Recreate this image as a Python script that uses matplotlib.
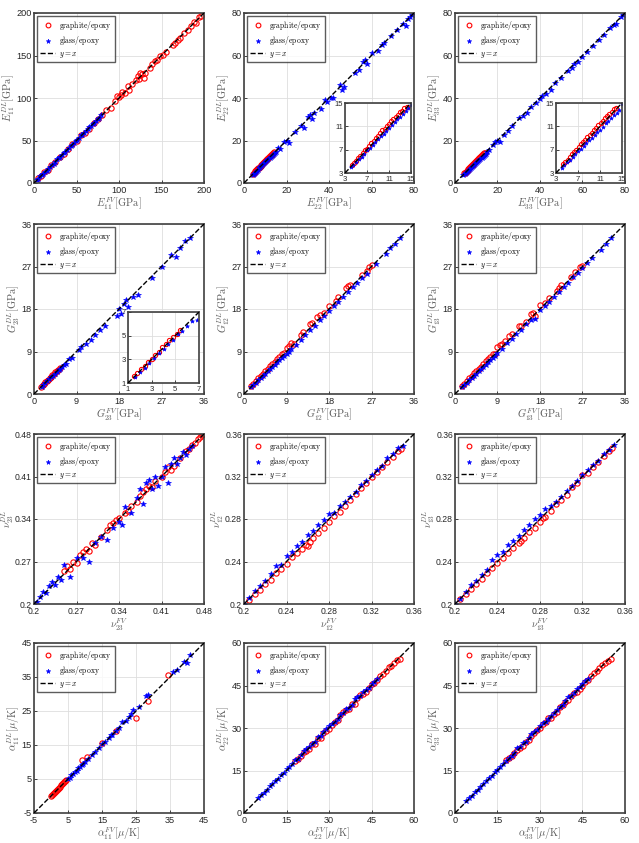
import matplotlib
matplotlib.use("Agg")
import matplotlib.pyplot as plt

plt.rcParams['mathtext.fontset'] = 'cm'
plt.rcParams['font.family'] = ['Liberation Sans', 'DejaVu Sans']

# ---- data ----
# E11
e11_gr_x = [5, 8, 12, 16, 20, 25, 30, 35, 40, 45, 50, 55, 60, 65, 70, 75, 80, 85, 90, 95, 98, 100, 102, 104, 107, 110,
            112, 115, 120, 122, 124, 125, 127, 129, 131, 136, 139, 142, 145, 148, 152, 155, 163, 166, 169, 172, 176,
            181, 185, 188, 191, 194, 196]
e11_gr_y = [6, 8, 13, 15, 21, 25, 31, 34, 40, 46, 50, 56, 59, 64, 71, 75, 80, 86, 88, 96, 102, 101, 103, 107, 106, 114,
            110, 117, 121, 126, 122, 130, 128, 124, 130, 135, 140, 143, 145, 149, 151, 154, 162, 165, 168, 171, 176,
            180, 185, 190, 188, 195, 197]
e11_gl_x = [3, 5, 7, 9, 11, 13, 15, 17, 19, 21, 23, 25, 27, 29, 31, 33, 35, 37, 39, 41, 43, 45, 47, 49, 51, 53, 55, 57,
            59, 61, 63, 65, 67, 69, 71, 73, 75, 77, 79]
e11_gl_y = [3, 5, 8, 9, 11, 13, 14, 17, 19, 21, 22, 25, 28, 29, 31, 33, 35, 36, 39, 41, 44, 45, 47, 49, 51, 53, 56, 57,
            59, 61, 63, 66, 67, 69, 71, 73, 75, 77, 80]

# E22
e22_gr_x = [4.2, 4.6, 5.0, 5.4, 5.8, 6.2, 6.6, 7.0, 7.4, 7.8, 8.2, 8.6, 9.0, 9.4, 9.8, 10.2, 10.6, 11.0, 11.4, 11.8,
            12.2, 12.6, 13.0, 13.4, 13.8, 14.2]
e22_gr_y = [4.3, 4.8, 5.1, 5.6, 6.0, 6.4, 6.9, 7.2, 7.7, 8.1, 8.5, 9.0, 9.4, 9.8, 10.3, 10.6, 11.1, 11.4, 11.9, 12.2,
            12.6, 13.0, 13.4, 13.7, 14.1, 14.4]
e22_gl_x = [4.0, 4.5, 5.0, 5.5, 6.0, 6.5, 7.0, 7.5, 8.0, 8.5, 9.0, 9.5, 10.0, 10.5, 11.0, 11.5, 12.0, 12.5, 13.0, 13.5,
            14.0, 14.5, 15, 16, 17, 19, 20, 21, 24, 27, 28, 30, 31, 32, 33, 36, 38, 39, 41, 42, 45, 46, 47, 52, 54,
            56, 57, 58, 60, 63, 65, 66, 69, 72, 75, 76, 77, 78, 79]
e22_gl_y = [4.0, 4.4, 4.9, 5.4, 5.8, 6.3, 6.9, 7.3, 7.8, 8.3, 8.8, 9.3, 9.7, 10.2, 10.8, 11.2, 11.7, 12.2, 12.6, 13.1,
            13.6, 14.1, 14.7, 16.5, 16, 19.5, 20, 19, 24, 27, 26, 31, 32, 30, 33, 35, 39, 38, 40, 40, 46, 44, 45, 52,
            53, 57, 58, 56, 61, 62, 65, 66, 69, 72, 75, 74, 77, 78, 79]

# E33
e33_gr_x = [4.3, 4.7, 5.1, 5.5, 5.9, 6.3, 6.7, 7.1, 7.5, 7.9, 8.3, 8.7, 9.1, 9.5, 9.9, 10.3, 10.7, 11.1, 11.5, 11.9,
            12.3, 12.7, 13.1, 13.5, 13.9]
e33_gr_y = [4.5, 4.9, 5.3, 5.8, 6.2, 6.6, 7.0, 7.4, 7.9, 8.3, 8.7, 9.1, 9.6, 9.9, 10.4, 10.8, 11.2, 11.6, 12.0, 12.4,
            12.8, 13.2, 13.5, 13.9, 14.2]
e33_gl_x = [4.0, 4.5, 5.0, 5.5, 6.0, 6.5, 7.0, 7.5, 8.0, 8.5, 9.0, 9.5, 10.0, 10.5, 11.0, 11.5, 12.0, 12.5, 13.0, 13.5,
            14.0, 14.5, 15, 16, 18, 19, 20, 21, 23, 25, 27, 30, 32, 34, 36, 38, 40, 41, 43, 45, 47, 50, 53, 55, 56,
            58, 60, 62, 65, 68, 70, 73, 75, 76, 78, 79]
e33_gl_y = [3.9, 4.4, 4.9, 5.3, 5.8, 6.3, 6.8, 7.2, 7.7, 8.1, 8.6, 9.0, 9.5, 10.0, 10.4, 10.9, 11.5, 12.0, 12.4, 12.9,
            13.3, 13.8, 14.8, 15.5, 18, 19.5, 20, 19.5, 22.5, 24.5, 27, 30.5, 31.5, 33, 36, 37.5, 39.5, 41, 42, 44,
            47, 49.5, 52.5, 54, 56, 57, 59.5, 61.5, 64.5, 67.5, 69.5, 73, 74.5, 75, 78, 79]

# G23
g23_gr_x = [1.5, 1.8, 2.1, 2.4, 2.7, 3.0, 3.3, 3.6, 3.9, 4.2, 4.5, 4.8, 5.1, 5.4]
g23_gr_y = [1.55, 1.85, 2.15, 2.45, 2.8, 3.05, 3.4, 3.65, 4.0, 4.3, 4.6, 4.9, 5.15, 5.45]
g23_gl_x = [1.6, 2.0, 2.4, 2.8, 3.2, 3.6, 4.0, 4.4, 4.8, 5.2, 5.6, 6.0, 6.4, 6.8, 7.5, 8.0, 9.5, 10, 11, 12, 13, 14,
            15, 17.5, 18, 18.5, 19, 19.5, 20, 21, 22, 25, 27, 29, 30, 31, 32, 33]
g23_gl_y = [1.5, 1.9, 2.3, 2.7, 3.1, 3.5, 3.9, 4.3, 4.6, 5.1, 5.4, 5.8, 6.2, 6.3, 7.4, 7.6, 9.3, 10, 10.5, 11.5, 12.5,
            13.5, 14.5, 16.5, 18, 17, 19, 20, 18.5, 20.5, 21, 24.5, 27, 29.5, 29, 31, 32.5, 33]

# G12
g12_gr_x = [1.5, 2, 2.5, 3, 3.5, 4, 4.5, 5, 5.5, 6, 6.5, 7, 7.5, 8, 8.5, 9, 9.5, 10, 10.5, 12, 12.5, 14, 14.5, 15.5,
            16, 17, 18, 19.5, 20, 21.5, 22, 22.5, 25, 26, 26.5, 27]
g12_gr_y = [1.6, 2.2, 2.8, 3.3, 3.8, 4.3, 4.9, 5.4, 5.9, 6.3, 6.8, 7.4, 7.9, 8.5, 8.6, 9.8, 10.2, 10.8, 10.6, 12.5,
            13.2, 14.8, 15.1, 16.3, 16.8, 17.2, 18.6, 19.8, 20.5, 22.5, 22.8, 23, 25.2, 26.1, 27, 27.3]
g12_gl_x = [1.5, 2, 2.5, 3, 3.5, 4, 4.5, 5, 5.5, 6, 6.5, 7, 7.5, 8, 8.5, 9, 9.5, 10, 11, 12, 13, 14, 15, 16, 17, 18,
            19, 20, 21, 22, 23, 24, 25, 26, 28, 30, 31, 32, 33]
g12_gl_y = [1.4, 1.9, 2.4, 2.9, 3.3, 3.8, 4.3, 4.8, 5.2, 5.7, 6.2, 6.7, 7.1, 7.6, 8.1, 8.5, 9.0, 9.6, 10.3, 11.5, 12.5,
            13.5, 14.5, 15.6, 16.5, 17.6, 18.7, 19.5, 20.5, 21.5, 22.6, 23.5, 24.5, 25.5, 27.6, 29.7, 31, 31.8, 33]

# G13
g13_gr_x = [1.5, 2, 2.5, 3, 3.5, 4, 4.5, 5, 5.5, 6, 6.5, 7, 7.5, 8, 8.5, 9, 9.5, 10, 10.5, 11.5, 12, 13.5, 14, 15, 16,
            16.5, 17, 18, 19, 20, 21.5, 22, 22.5, 24.5, 25.5, 26.5, 27]
g13_gr_y = [1.6, 2.2, 2.7, 3.3, 3.8, 4.4, 4.9, 5.4, 5.8, 6.4, 6.9, 7.4, 7.9, 8.5, 8.4, 9.9, 10.3, 10.6, 11.3, 12.3,
            12.8, 14.5, 14.3, 15.2, 16.9, 17.2, 16.5, 18.8, 19.3, 20.4, 21.8, 22.5, 23, 24.8, 25.8, 26.8, 27.2]
g13_gl_x = [1.5, 2, 2.5, 3, 3.5, 4, 4.5, 5, 5.5, 6, 6.5, 7, 7.5, 8, 8.5, 9, 10, 11, 12, 13, 14, 15, 16, 17, 18, 19,
            20, 21, 22, 23, 24, 25, 26, 27, 28, 29, 31, 32, 33]
g13_gl_y = [1.4, 1.9, 2.4, 2.9, 3.4, 3.8, 4.3, 4.8, 5.3, 5.7, 6.2, 6.7, 7.2, 7.6, 8.1, 8.6, 9.6, 10.8, 11.7, 12.8,
            13.6, 14.8, 15.7, 15.8, 17.7, 18.6, 19.5, 20.6, 21.6, 22.7, 23.6, 24.7, 25.6, 26.6, 27.8, 28.7, 30.6,
            31.8, 33]

# nu23
n23_gr_x = [0.25, 0.255, 0.26, 0.265, 0.27, 0.275, 0.28, 0.285, 0.29, 0.295, 0.30, 0.31, 0.32, 0.325, 0.33, 0.335,
            0.34, 0.35, 0.355, 0.36, 0.37, 0.375, 0.38, 0.385, 0.39, 0.395, 0.40, 0.41, 0.415, 0.42, 0.425, 0.43,
            0.44, 0.45, 0.455, 0.46, 0.465, 0.47, 0.473, 0.476, 0.478]
n23_gr_y = [0.255, 0.262, 0.258, 0.27, 0.268, 0.28, 0.285, 0.29, 0.287, 0.30, 0.298, 0.31, 0.322, 0.33, 0.333, 0.338,
            0.342, 0.35, 0.353, 0.362, 0.368, 0.378, 0.385, 0.39, 0.395, 0.392, 0.402, 0.41, 0.418, 0.425, 0.42,
            0.428, 0.44, 0.452, 0.455, 0.462, 0.465, 0.472, 0.475, 0.478, 0.48]
n23_gl_x = [0.20, 0.205, 0.21, 0.215, 0.22, 0.225, 0.23, 0.235, 0.24, 0.245, 0.25, 0.26, 0.27, 0.28, 0.29, 0.30,
            0.31, 0.32, 0.33, 0.34, 0.345, 0.35, 0.36, 0.37, 0.375, 0.38, 0.385, 0.39, 0.395, 0.40, 0.405, 0.41,
            0.415, 0.42, 0.425, 0.43, 0.435, 0.44, 0.445, 0.45, 0.455, 0.46]
n23_gl_y = [0.20, 0.203, 0.212, 0.22, 0.218, 0.23, 0.236, 0.232, 0.245, 0.24, 0.265, 0.245, 0.275, 0.275, 0.27, 0.30,
            0.31, 0.305, 0.325, 0.335, 0.33, 0.36, 0.35, 0.375, 0.39, 0.365, 0.40, 0.405, 0.39, 0.41, 0.395, 0.41,
            0.425, 0.40, 0.43, 0.44, 0.43, 0.44, 0.45, 0.445, 0.455, 0.46]

# nu12
n12_gr_x = [0.205, 0.21, 0.215, 0.22, 0.225, 0.23, 0.235, 0.24, 0.245, 0.25, 0.255, 0.258, 0.26, 0.262, 0.265, 0.27,
            0.275, 0.28, 0.285, 0.29, 0.295, 0.30, 0.305, 0.31, 0.315, 0.32, 0.325, 0.33, 0.335, 0.34, 0.345, 0.348]
n12_gr_y = [0.204, 0.209, 0.213, 0.219, 0.223, 0.229, 0.233, 0.238, 0.244, 0.248, 0.252, 0.256, 0.255, 0.258, 0.262,
            0.267, 0.272, 0.277, 0.283, 0.287, 0.292, 0.298, 0.304, 0.309, 0.314, 0.32, 0.324, 0.329, 0.334, 0.338,
            0.344, 0.346]
n12_gl_x = [0.20, 0.205, 0.21, 0.215, 0.22, 0.225, 0.23, 0.235, 0.24, 0.245, 0.25, 0.255, 0.26, 0.265, 0.27, 0.275,
            0.28, 0.285, 0.29, 0.295, 0.30, 0.305, 0.31, 0.315, 0.32, 0.325, 0.33, 0.335, 0.34, 0.345, 0.35]
n12_gl_y = [0.20, 0.206, 0.212, 0.217, 0.222, 0.228, 0.236, 0.237, 0.245, 0.249, 0.255, 0.258, 0.265, 0.269, 0.274,
            0.279, 0.285, 0.286, 0.292, 0.296, 0.301, 0.305, 0.312, 0.316, 0.321, 0.326, 0.33, 0.337, 0.341, 0.347,
            0.349]

# nu13
n13_gr_x = [0.205, 0.21, 0.215, 0.22, 0.225, 0.23, 0.235, 0.24, 0.245, 0.25, 0.255, 0.26, 0.262, 0.265, 0.27, 0.275,
            0.28, 0.283, 0.285, 0.29, 0.295, 0.30, 0.305, 0.31, 0.315, 0.32, 0.325, 0.33, 0.335, 0.34, 0.345, 0.348]
n13_gr_y = [0.205, 0.209, 0.214, 0.219, 0.224, 0.229, 0.234, 0.239, 0.243, 0.248, 0.253, 0.257, 0.259, 0.262, 0.268,
            0.272, 0.277, 0.281, 0.282, 0.288, 0.294, 0.298, 0.303, 0.31, 0.314, 0.321, 0.323, 0.329, 0.334, 0.339,
            0.344, 0.347]
n13_gl_x = [0.20, 0.205, 0.21, 0.215, 0.22, 0.225, 0.23, 0.235, 0.24, 0.245, 0.25, 0.255, 0.26, 0.265, 0.27, 0.275,
            0.28, 0.285, 0.29, 0.295, 0.30, 0.305, 0.31, 0.315, 0.32, 0.325, 0.33, 0.335, 0.34, 0.345, 0.35]
n13_gl_y = [0.20, 0.205, 0.211, 0.218, 0.222, 0.227, 0.232, 0.241, 0.246, 0.249, 0.256, 0.259, 0.264, 0.27, 0.274,
            0.28, 0.284, 0.289, 0.292, 0.296, 0.301, 0.306, 0.311, 0.316, 0.321, 0.326, 0.331, 0.335, 0.341, 0.345,
            0.35]

# alpha11
a11_gr_x = [0, 0.3, 0.6, 0.9, 1.2, 1.5, 1.8, 2.1, 2.4, 2.7, 3.0, 3.3, 3.6, 3.9, 4.2, 4.5, 9.0, 10.5, 15, 19, 25,
            28.5, 34.5]
a11_gr_y = [0.0, 0.4, 0.5, 1.0, 1.3, 1.4, 1.9, 2.2, 2.5, 2.6, 3.1, 3.4, 3.7, 4.0, 4.3, 4.6, 10.5, 11.5, 15.5, 19,
            23, 28, 35.5]
a11_gl_x = [5, 5.5, 6, 6.5, 7, 7.5, 8, 8.5, 9, 9.5, 10, 11, 12, 13, 14, 15, 16, 17, 17.5, 18, 19, 20, 21, 22, 23,
            23.5, 24, 26, 28, 28.5, 36, 37, 39, 40, 41]
a11_gl_y = [5.1, 5.4, 6.1, 6.4, 7.1, 7.4, 8.1, 8.4, 9.1, 9.4, 10.1, 11, 12, 12.8, 14.1, 15.2, 16, 17.2, 17.8, 18,
            19.2, 20, 21.8, 22.2, 23.2, 24, 25.3, 26.2, 29.5, 29.8, 36.5, 37, 39.5, 39.2, 41.5]

# alpha22
a22_gr_x = [18, 19, 20, 21, 22, 23, 24, 25, 26, 27, 28, 29, 30, 31, 32, 33, 34, 35, 36, 37, 38, 39, 40, 41, 42, 43,
            44, 45, 46, 47, 48, 49, 50, 51, 52, 53, 54, 55]
a22_gr_y = [18.5, 19.2, 20.2, 21.5, 21.8, 22.5, 24.2, 24.5, 26.3, 26.4, 28.2, 29.1, 29.8, 31.2, 32.1, 33, 34.5, 35.5,
            36.2, 36.8, 38.4, 38.5, 40.5, 41.5, 42, 42.6, 44.2, 45.5, 46, 46.8, 48.3, 49.2, 50.2, 51.5, 52, 52.8,
            54, 54.3]
a22_gl_x = [5, 6, 7, 8, 9, 10, 11, 12, 13, 14, 15, 16, 17, 18, 19, 20, 21, 22, 23, 24, 25, 26, 27, 28, 29, 30, 31,
            32, 33, 34, 35, 36, 37, 38, 39, 40, 41, 42, 43, 44, 45, 46, 47]
a22_gl_y = [5.2, 6.3, 7.1, 8.2, 9.4, 10.1, 11.3, 12.1, 13.3, 14.2, 15.4, 16.1, 17.3, 18.6, 19.2, 20.5, 21.8, 22.6,
            23.2, 24.3, 25.2, 26.8, 27.3, 28.6, 29.5, 30.8, 31.4, 32.2, 33.1, 34.6, 35.4, 36.8, 37.1, 38.2, 40.2,
            40.8, 41.2, 42.7, 43.4, 44.1, 45.6, 46.3, 47.2]

# alpha33
a33_gr_x = [18, 19, 20, 21, 22, 23, 24, 25, 26, 27, 28, 29, 30, 31, 32, 33, 34, 35, 36, 37, 38, 39, 40, 41, 42, 43,
            44, 45, 46, 47, 48, 49, 50, 51, 52, 53, 54, 55]
a33_gr_y = [18.6, 19.4, 20.1, 21.2, 22.3, 23.1, 23.8, 25.2, 25.8, 27.2, 28.4, 29.2, 30.1, 31.3, 32, 33.4, 33.6,
            34.8, 35.5, 37.4, 38.2, 39.1, 39.8, 41.2, 42.3, 42.8, 43.6, 44.8, 46.2, 47, 48.4, 49.3, 50.1, 51.2,
            52.2, 52.9, 53.8, 54.2]
a33_gl_x = [4, 5, 6, 7, 8, 9, 10, 11, 12, 13, 14, 15, 16, 17, 18, 19, 20, 21, 22, 23, 24, 25, 26, 27, 28, 29, 30, 31,
            32, 33, 34, 35, 36, 37, 38, 39, 40, 41, 42, 43, 44, 45, 46, 47]
a33_gl_y = [4.4, 5.2, 6.1, 7.3, 8.1, 9.2, 10.3, 11.2, 12.4, 13.1, 14.3, 15.2, 16.1, 17.2, 18.4, 19.5, 20.2, 21.3,
            22.8, 23.4, 24.6, 25.2, 26.4, 27.8, 28.6, 29.4, 30.8, 31.6, 32.1, 33.2, 34.1, 35.2, 36.3, 37.4, 38.2,
            39.6, 40.8, 41.3, 42.2, 43.6, 44.3, 45.4, 46.5, 47.2]

# ---- panel definitions ----
e_ticks = [0, 20, 40, 60, 80]
g_ticks = [0, 9, 18, 27, 36]
n_ticks_a = [0.2, 0.27, 0.34, 0.41, 0.48]
n_ticks_b = [0.2, 0.24, 0.28, 0.32, 0.36]
a_ticks = [0, 15, 30, 45, 60]

panels = [
    (e11_gr_x, e11_gr_y, e11_gl_x, e11_gl_y, [0, 50, 100, 150, 200], r'$E_{11}^{FV}[\mathrm{GPa}]$', r'$E_{11}^{DL}[\mathrm{GPa}]$', None),
    (e22_gr_x, e22_gr_y, e22_gl_x, e22_gl_y, e_ticks, r'$E_{22}^{FV}[\mathrm{GPa}]$', r'$E_{22}^{DL}[\mathrm{GPa}]$', [3, 7, 11, 15]),
    (e33_gr_x, e33_gr_y, e33_gl_x, e33_gl_y, e_ticks, r'$E_{33}^{FV}[\mathrm{GPa}]$', r'$E_{33}^{DL}[\mathrm{GPa}]$', [3, 7, 11, 15]),
    (g23_gr_x, g23_gr_y, g23_gl_x, g23_gl_y, g_ticks, r'$G_{23}^{FV}[\mathrm{GPa}]$', r'$G_{23}^{DL}[\mathrm{GPa}]$', [1, 3, 5, 7]),
    (g12_gr_x, g12_gr_y, g12_gl_x, g12_gl_y, g_ticks, r'$G_{12}^{FV}[\mathrm{GPa}]$', r'$G_{12}^{DL}[\mathrm{GPa}]$', None),
    (g13_gr_x, g13_gr_y, g13_gl_x, g13_gl_y, g_ticks, r'$G_{13}^{FV}[\mathrm{GPa}]$', r'$G_{13}^{DL}[\mathrm{GPa}]$', None),
    (n23_gr_x, n23_gr_y, n23_gl_x, n23_gl_y, n_ticks_a, r'$\nu_{23}^{FV}$', r'$\nu_{23}^{DL}$', None),
    (n12_gr_x, n12_gr_y, n12_gl_x, n12_gl_y, n_ticks_b, r'$\nu_{12}^{FV}$', r'$\nu_{12}^{DL}$', None),
    (n13_gr_x, n13_gr_y, n13_gl_x, n13_gl_y, n_ticks_b, r'$\nu_{13}^{FV}$', r'$\nu_{13}^{DL}$', None),
    (a11_gr_x, a11_gr_y, a11_gl_x, a11_gl_y, [-5, 5, 15, 25, 35, 45], r'$\alpha_{11}^{FV}[\mu/\mathrm{K}]$', r'$\alpha_{11}^{DL}[\mu/\mathrm{K}]$', None),
    (a22_gr_x, a22_gr_y, a22_gl_x, a22_gl_y, a_ticks, r'$\alpha_{22}^{FV}[\mu/\mathrm{K}]$', r'$\alpha_{22}^{DL}[\mu/\mathrm{K}]$', None),
    (a33_gr_x, a33_gr_y, a33_gl_x, a33_gl_y, a_ticks, r'$\alpha_{33}^{FV}[\mu/\mathrm{K}]$', r'$\alpha_{33}^{DL}[\mu/\mathrm{K}]$', None),
]

W, H = 639, 843
col_left = [34, 244, 455]
row_top = [13, 224, 434, 643]
aw, ah = 170, 170

DARK = '0.15'
LABEL = '0.35'


def style_axes(ax, ticks, fs):
    ax.set_xlim(ticks[0], ticks[-1])
    ax.set_ylim(ticks[0], ticks[-1])
    ax.set_xticks(ticks)
    ax.set_yticks(ticks)
    ax.set_xticklabels([f'{t:g}' for t in ticks])
    ax.set_yticklabels([f'{t:g}' for t in ticks])
    ax.grid(True, color='0.87', linewidth=0.6)
    ax.set_axisbelow(True)
    ax.tick_params(direction='in', length=2.5, width=0.6, colors=DARK, labelsize=fs)
    ax.tick_params(axis='x', pad=2.5)
    ax.tick_params(axis='y', pad=1.5)
    for s in ax.spines.values():
        s.set_color('0.25')
        s.set_linewidth(1.2)


def scatter_pair(ax, gx, gy, bx, by, lim, ms):
    ax.plot(gx, gy, 'o', mfc='none', mec='red', mew=0.8, ms=ms, label=r'$\mathrm{graphite/epoxy}$')
    ax.plot(bx, by, '*', color='blue', mec='blue', ms=ms, mew=0.4, label=r'$\mathrm{glass/epoxy}$')
    ax.plot(lim, lim, '--', color='black', lw=1.0, label=r'$y = x$', zorder=3)


fig = plt.figure(figsize=(W / 100, H / 100), dpi=100)

for i, (gx, gy, bx, by, ticks, xl, yl, inset) in enumerate(panels):
    r, c = divmod(i, 3)
    x0 = col_left[c] / W
    y0 = 1 - (row_top[r] + ah) / H
    ax = fig.add_axes([x0, y0, aw / W, ah / H])
    lim = [ticks[0], ticks[-1]]
    scatter_pair(ax, gx, gy, bx, by, lim, 3.8)
    style_axes(ax, ticks, 6.2 if r == 2 else 6.6)
    ax.set_xlabel(xl, fontsize=7.5, color=LABEL, labelpad=0)
    ax.set_ylabel(yl, fontsize=7.5, color=LABEL, labelpad=-1.0 if r == 2 else -0.5)
    leg = ax.legend(loc='upper left', fontsize=5.5, frameon=True, fancybox=False,
                    borderaxespad=0.45, handlelength=2.0, handletextpad=0.5,
                    labelspacing=0.3, borderpad=0.35, markerscale=0.9)
    leg.get_frame().set_edgecolor('0.2')
    leg.get_frame().set_linewidth(1.0)

    if inset is not None:
        if c == 0:
            ix, iy, iw, ih = 128, 312, 71, 71
        else:
            ix, iy, iw, ih = col_left[c] + 101, 103, 66, 70
        iax = fig.add_axes([ix / W, 1 - (iy + ih) / H, iw / W, ih / H])
        ilim = [inset[0], inset[-1]]
        scatter_pair(iax, gx, gy, bx, by, ilim, 3.0)
        style_axes(iax, inset, 5.5)

fig.savefig('out.png', dpi=100)
